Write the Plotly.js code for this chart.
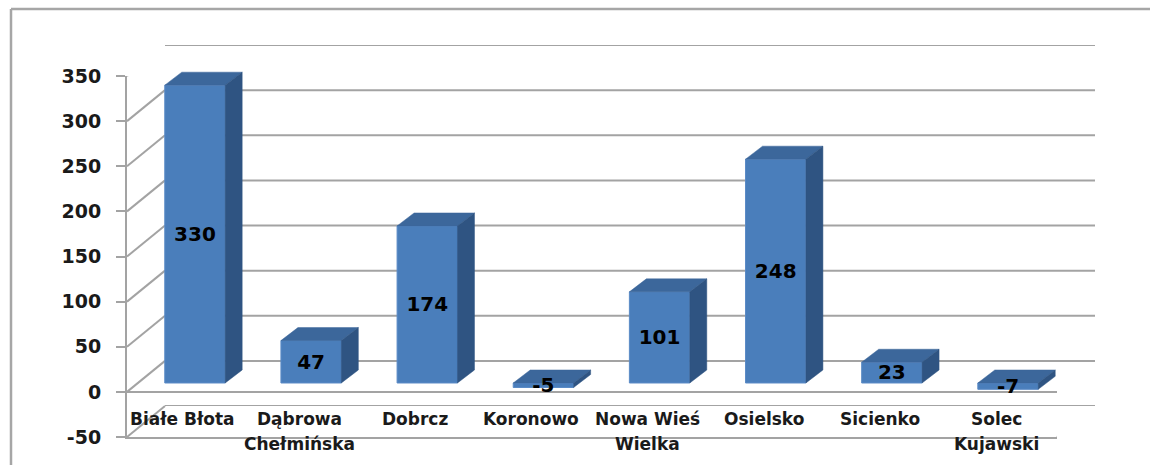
<!DOCTYPE html>
<html>
<head>
<meta charset="utf-8">
<script src="https://cdn.plot.ly/plotly-3.0.1.min.js"></script>
<style>html,body{margin:0;padding:0;background:#fff;overflow:hidden;}#chart{width:1150px;height:465px;}</style>
</head>
<body>
<div id="chart"></div>
<script>
// ---- data ----
const categories = ["Białe Błota", "Dąbrowa\nChełmińska", "Dobrcz", "Koronowo", "Nowa Wieś\nWielka", "Osielsko", "Sicienko", "Solec\nKujawski"];
const values = [330, 47, 174, -5, 101, 248, 23, -7];
const yTicks = [-50, 0, 50, 100, 150, 200, 250, 300, 350];
const yTickText = ["-50", "0", "50", "100", "150", "200", "250", "300", "350"];

// ---- geometry (pixels) ----
const W = 1150, H = 465;
const px = v => v / W;
const py = v => (H - v) / H;
const xRange = [-0.482, 7.525];
const yRange = [-50, 350];
const pxPerX = 930 / (xRange[1] - xRange[0]);
const pxPerY = 361 / (yRange[1] - yRange[0]);

const gridCol = '#a3a3a3';
const textCol = '#1a1a1a';
const FONT = 'DejaVu Sans';

// bar depth (bar plane units)
const barW = 0.52, half = barW / 2;
const DXb = 17 / pxPerX, DYb = 13 / pxPerY;
// wall depth (front plane units)
const DXf = 38 / pxPerX, DYf = 31 / pxPerY;

const idx = categories.map((c, i) => i);

// top & side faces
const topX = [], topY = [], sideX = [], sideY = [];
values.forEach((v, i) => {
  const t = Math.max(v, 0), b = Math.min(v, 0);
  topX.push(i - half, i + half, i + half + DXb, i - half + DXb, i - half, null);
  topY.push(t, t, t + DYb, t + DYb, t, null);
  sideX.push(i + half, i + half, i + half + DXb, i + half + DXb, i + half, null);
  sideY.push(b, t, t + DYb, b + DYb, b, null);
});

// back wall gridlines (back plane)
const gridX = [], gridY = [];
yTicks.forEach(v => {
  gridX.push(xRange[0], xRange[1], null);
  gridY.push(v, v, null);
});

// left wall diagonals + floor right edge (front plane)
const diagX = [], diagY = [];
yTicks.forEach(v => {
  diagX.push(xRange[0], xRange[0] + DXf, null);
  diagY.push(v, v + DYf, null);
});
diagX.push(xRange[1], xRange[1] + DXf, null);
diagY.push(yRange[0], yRange[0] + DYf, null);

const traces = [
  { type: 'scatter', x: gridX, y: gridY, xaxis: 'x', yaxis: 'y', mode: 'lines',
    line: { color: gridCol, width: 2 }, cliponaxis: false, hoverinfo: 'skip', showlegend: false },
  { type: 'scatter', x: diagX, y: diagY, xaxis: 'x2', yaxis: 'y2', mode: 'lines',
    line: { color: gridCol, width: 2 }, cliponaxis: false, hoverinfo: 'skip', showlegend: false },
  { type: 'bar', x: idx, y: values, xaxis: 'x3', yaxis: 'y3', width: barW,
    marker: { color: '#4a7ebb', line: { color: '#5b8bc6', width: 1 } }, hoverinfo: 'skip', showlegend: false },
  { type: 'scatter', x: topX, y: topY, xaxis: 'x3', yaxis: 'y3', mode: 'lines', fill: 'toself',
    fillcolor: '#3c679b', line: { color: '#3c679b', width: 0.5 }, cliponaxis: false, hoverinfo: 'skip', showlegend: false },
  { type: 'scatter', x: sideX, y: sideY, xaxis: 'x3', yaxis: 'y3', mode: 'lines', fill: 'toself',
    fillcolor: '#2f5482', line: { color: '#2f5482', width: 0.5 }, cliponaxis: false, hoverinfo: 'skip', showlegend: false },
  { type: 'scatter', x: idx, y: values.map(v => v / 2 - 2), xaxis: 'x3', yaxis: 'y3', mode: 'text',
    text: values.map(String), textposition: 'middle center',
    textfont: { family: FONT, size: 20, color: '#000', weight: 'bold' }, cliponaxis: false, hoverinfo: 'skip', showlegend: false }
];

// category labels (split lines)
const annotations = [];
categories.forEach((c, i) => {
  c.split('\n').forEach((line, k) => {
    annotations.push({
      text: line, xref: 'x2', yref: 'paper', x: i, y: py(418.5 + 25 * k),
      xanchor: 'center', yanchor: 'middle', showarrow: false,
      font: { family: FONT, size: 17, color: textCol, weight: 'bold' }
    });
  });
});

const layout = {
  width: W, height: H,
  margin: { l: 0, r: 0, t: 0, b: 0 },
  paper_bgcolor: '#ffffff', plot_bgcolor: 'rgba(0,0,0,0)',
  showlegend: false,
  // back wall
  xaxis: { domain: [px(165), px(1095)], range: xRange, anchor: 'y', visible: false, fixedrange: true },
  yaxis: { domain: [py(406), py(45)], range: yRange, anchor: 'x', visible: false, fixedrange: true },
  // front plane
  xaxis2: { domain: [px(127), px(1057)], range: xRange, anchor: 'y2', showticklabels: false, ticks: '',
    showgrid: false, zeroline: false, showline: true, linecolor: gridCol, linewidth: 2, fixedrange: true },
  yaxis2: { domain: [py(437), py(76)], range: yRange, anchor: 'x2', tickmode: 'array', tickvals: yTicks, ticktext: yTickText,
    ticks: 'outside', ticklen: 9, tickwidth: 2, tickcolor: gridCol, ticklabelstandoff: 11,
    tickfont: { family: FONT, size: 19, color: textCol, weight: 'bold' },
    showline: true, linecolor: gridCol, linewidth: 2, showgrid: false,
    zeroline: true, zerolinecolor: gridCol, zerolinewidth: 2, fixedrange: true },
  // bar plane
  xaxis3: { domain: [px(139), px(1069)], range: xRange, anchor: 'y3', visible: false, fixedrange: true },
  yaxis3: { domain: [py(383 + 50 * pxPerY), py(383 - 350 * pxPerY)], range: yRange, anchor: 'x3', visible: false, fixedrange: true },
  annotations: annotations,
  shapes: [
    { type: 'line', xref: 'paper', yref: 'paper', x0: px(11), y0: py(9), x1: 1, y1: py(9),
      line: { color: '#a6a6a6', width: 2.5 }, layer: 'below' },
    { type: 'line', xref: 'paper', yref: 'paper', x0: px(11), y0: py(9), x1: px(11), y1: 0,
      line: { color: '#a6a6a6', width: 2.5 }, layer: 'below' }
  ]
};

Plotly.newPlot('chart', traces, layout, { displayModeBar: false, staticPlot: true });
</script>
</body>
</html>
